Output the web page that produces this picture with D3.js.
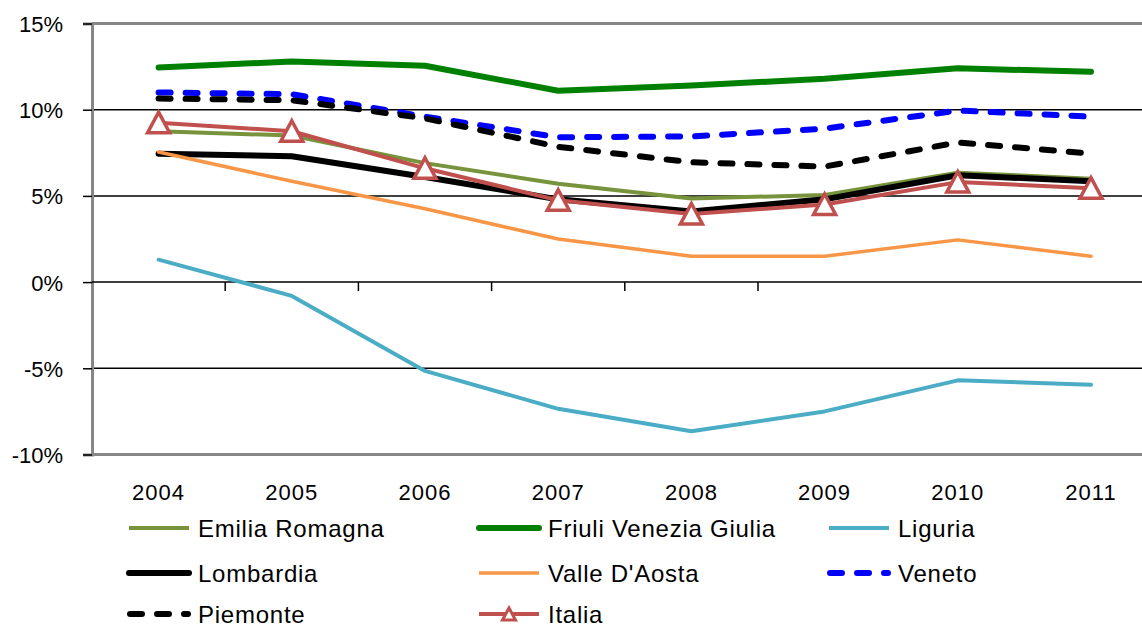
<!DOCTYPE html>
<html><head><meta charset="utf-8">
<script src="https://cdn.jsdelivr.net/npm/d3@7"></script>
<style>
html,body{margin:0;padding:0;background:#fff;}
svg{display:block;font-family:"Liberation Sans",Arial,sans-serif;}
</style></head>
<body>
<svg id="chart" width="1142" height="625"></svg>
<script>
const years = ["2004","2005","2006","2007","2008","2009","2010","2011"];
const yTicks = [-0.10,-0.05,0,0.05,0.10,0.15];
const emiliaRomagna = [8.75, 8.5, 6.9, 5.7, 4.85, 5.05, 6.35, 6.0];
const friuliVeneziaGiulia = [12.45, 12.8, 12.55, 11.1, 11.4, 11.8, 12.4, 12.2];
const liguria = [1.3, -0.8, -5.15, -7.35, -8.65, -7.5, -5.7, -5.95];
const lombardia = [7.45, 7.3, 6.1, 4.8, 4.1, 4.8, 6.2, 5.85];
const valleDAosta = [7.55, 5.85, 4.25, 2.5, 1.5, 1.5, 2.45, 1.5];
const veneto = [11.0, 10.9, 9.6, 8.4, 8.45, 8.9, 9.95, 9.6];
const piemonte = [10.65, 10.55, 9.5, 7.85, 6.95, 6.7, 8.1, 7.45];
const italia = [9.25, 8.75, 6.6, 4.75, 3.95, 4.5, 5.8, 5.45];

const series = [
  {name:"Emilia Romagna", values:emiliaRomagna, color:"#77933C", width:4, dash:null},
  {name:"Friuli Venezia Giulia", values:friuliVeneziaGiulia, color:"#008000", width:6, dash:null},
  {name:"Liguria", values:liguria, color:"#4BACC6", width:4, dash:null},
  {name:"Lombardia", values:lombardia, color:"#000000", width:6, dash:null},
  {name:"Valle D'Aosta", values:valleDAosta, color:"#F79646", width:3.5, dash:null},
  {name:"Veneto", values:veneto, color:"#0000FF", width:6, dash:"12,15"},
  {name:"Piemonte", values:piemonte, color:"#000000", width:6, dash:"12,15"},
  {name:"Italia", values:italia, color:"#C0504D", width:4, dash:null, marker:true}
];

const svg = d3.select("#chart");
const plotLeft = 92, plotTop = 23.5, plotBottom = 454.5, band = 133.2;
const x = d3.scalePoint().domain(years).range([plotLeft + band/2, plotLeft + band*7.5]);
const y = d3.scaleLinear().domain([-0.10, 0.15]).range([plotBottom, plotTop]);

// gridlines
svg.append("g").selectAll("line").data([-0.05, 0.05, 0.10]).join("line")
  .attr("x1", plotLeft).attr("x2", 1142).attr("y1", d=>y(d)).attr("y2", d=>y(d))
  .attr("stroke", "#000").attr("stroke-width", 1.5);

// top and bottom border (grey)
svg.append("line").attr("x1", plotLeft).attr("x2", 1142).attr("y1", y(0.15)).attr("y2", y(0.15))
  .attr("stroke", "#868686").attr("stroke-width", 3);
svg.append("line").attr("x1", plotLeft).attr("x2", 1142).attr("y1", y(-0.10)).attr("y2", y(-0.10))
  .attr("stroke", "#868686").attr("stroke-width", 3);

// y axis
const yAxis = d3.axisLeft(y).tickValues(yTicks).tickSize(9).tickPadding(20)
  .tickFormat(d => d3.format(".0%")(d).replace("−","-"));
const ga = svg.append("g").attr("transform", `translate(${plotLeft},0)`).call(yAxis);
ga.select(".domain").attr("stroke", "#868686").attr("stroke-width", 3);
ga.selectAll(".tick line").attr("stroke", "#000").attr("stroke-width", 1.5);
ga.selectAll(".tick text").attr("font-size", 22).attr("fill", "#000")
  .attr("font-family", "'Liberation Sans',Arial,sans-serif").attr("x", -29).attr("dy", "0.36em");

// x axis line at 0 with ticks between categories
svg.append("line").attr("x1", plotLeft).attr("x2", 1142).attr("y1", y(0)).attr("y2", y(0))
  .attr("stroke", "#000").attr("stroke-width", 1.5);
const boundaries = years.slice(0, 5);
svg.append("g").selectAll("line").data(boundaries).join("line")
  .attr("x1", d => x(d) + band/2).attr("x2", d => x(d) + band/2)
  .attr("y1", y(0)).attr("y2", y(0) + 9)
  .attr("stroke", "#000").attr("stroke-width", 1.5);

// x labels
svg.append("g").selectAll("text").data(years).join("text")
  .attr("x", d => x(d)).attr("y", 500).attr("text-anchor", "middle")
  .attr("font-size", 22).attr("letter-spacing", 1).text(d => d);

// series
const line = d3.line().x((d,i)=>x(years[i])).y(d=>y(d/100));
const gs = svg.append("g");
series.forEach(s => {
  gs.append("path").attr("d", line(s.values)).attr("fill", "none")
    .attr("stroke", s.color).attr("stroke-width", s.width)
    .attr("stroke-linecap", "round").attr("stroke-linejoin", "round")
    .attr("stroke-dasharray", s.dash);
  if (s.marker) {
    gs.selectAll(null).data(s.values).join("path")
      .attr("transform", (d,i)=>`translate(${x(years[i])},${y(d/100)})`)
      .attr("d", "M0,-10.5L11,10L-11,10Z")
      .attr("fill", "#fff").attr("stroke", s.color).attr("stroke-width", 3.5)
      .attr("stroke-linejoin", "miter");
  }
});

// legend
const legCols = [127, 477, 827], legRows = [528, 573, 614];
const lg = svg.append("g");
series.forEach((s, i) => {
  const cx = legCols[i % 3], cy = legRows[Math.floor(i / 3)];
  const g = lg.append("g").attr("transform", `translate(${cx},${cy})`);
  g.append("line").attr("x1", s.dash ? 3 : 2).attr("x2", s.dash ? 61 : 62).attr("y1", 0).attr("y2", 0)
    .attr("stroke", s.color).attr("stroke-width", s.width)
    .attr("stroke-linecap", (s.dash || s.width >= 6) ? "round" : "butt")
    .attr("stroke-dasharray", s.dash);
  if (s.marker) {
    g.append("path").attr("transform", "translate(32,0)").attr("d", "M0,-6L6.5,6L-6.5,6Z")
      .attr("fill", "#fff").attr("stroke", s.color).attr("stroke-width", 3);
  }
  g.append("text").attr("x", 71).attr("y", 8.5).attr("font-size", 24)
    .attr("letter-spacing", 0.75).attr("fill", "#000").text(s.name);
});
</script>
</body></html>
